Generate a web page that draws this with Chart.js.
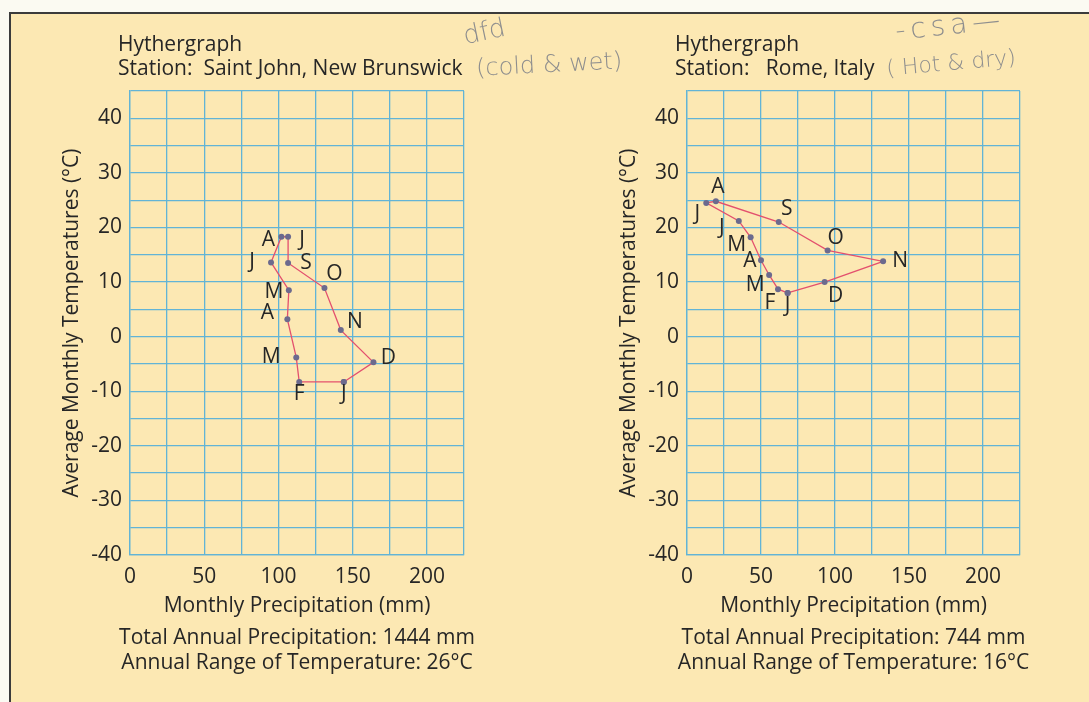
<!DOCTYPE html>
<html>
<head>
<meta charset="utf-8">
<title>Hythergraphs</title>
<script src="https://cdn.jsdelivr.net/npm/chart.js@4.4.1/dist/chart.umd.min.js"></script>
<style>
  html, body { margin: 0; padding: 0; background: #fbfaf2; overflow: hidden; }
  #sheet {
    position: absolute; left: 9px; top: 12px; width: 1080px; height: 690px;
    background: #fce8b3; border-left: 2px solid #3b3b3b; border-top: 2px solid #3b3b3b;
  }
  canvas { position: absolute; top: 0; }
  #c1 { left: 0; }
  #c2 { left: 545px; }
  .pencil {
    position: absolute; color: #8e8e8e; font-family: 'DejaVu Sans', sans-serif;
    font-weight: 300; white-space: nowrap;
  }
</style>
</head>
<body>
<div id="sheet"></div>
<canvas id="c1" width="544" height="702"></canvas>
<canvas id="c2" width="544" height="702"></canvas>

<div class="pencil" style="left:463px;top:16px;font-size:26px;transform:rotate(-12deg);">dfd</div>
<div class="pencil" style="left:476px;top:50px;font-size:24px;transform:rotate(-3deg);">(cold &amp; wet)</div>
<div class="pencil" style="left:895px;top:8px;font-size:28px;letter-spacing:5px;transform:rotate(-6deg);">-csa—</div>
<div class="pencil" style="left:886px;top:50px;font-size:22px;transform:rotate(-5deg);">( Hot &amp; dry)</div>

<script>
// --- DADOS: Saint John, New Brunswick ---
const labelsSJ = ['J', 'F', 'M', 'A', 'M', 'J', 'A', 'J', 'S', 'O', 'N', 'D'];
const precipSJ = [144, 114, 112, 106, 107, 95, 102, 106.5, 106.5, 131, 142, 164];
const tempSJ = [-8.3, -8.3, -3.8, 3.2, 8.5, 13.6, 18.3, 18.3, 13.5, 8.9, 1.2, -4.7];

// --- DADOS: Rome, Italy ---
const labelsRome = ['J', 'F', 'M', 'A', 'M', 'J', 'J', 'A', 'S', 'O', 'N', 'D'];
const precipRome = [68, 61.5, 55.5, 50, 43, 35, 13, 19.5, 62, 95, 132.5, 93];
const tempRome = [8.0, 8.7, 11.3, 14.0, 18.2, 21.2, 24.5, 24.8, 21.0, 15.8, 13.8, 10.0];

// posição das letras em relação a cada ponto (px)
const offsetsSJ = [[0, 12], [0, 12], [-25, 0], [-20, -6], [-15, 2], [-19, 0],
                   [-13, 3], [14, 3], [18, 0], [10, -14], [14, -8], [15, -4]];
const offsetsRome = [[0, 13], [-8, 14], [-14, 10], [-11, 1], [-14, 8], [-17, 7],
                     [-9, 11], [2, -14], [8, -13], [8, -12], [17, 0], [11, 14]];

const FONT = "'Open Sans', 'Noto Sans', sans-serif";
const INK = '#262626';
const GRID = '#62b4d6';

Chart.defaults.font.family = FONT;
Chart.defaults.font.size = 21;
Chart.defaults.color = INK;

// textos do cabeçalho, rodapé e letras dos meses
const hytherText = {
  id: 'hytherText',
  afterDatasetsDraw(chart, args, opts) {
    const { ctx, chartArea } = chart;
    ctx.save();
    ctx.fillStyle = INK;
    ctx.font = '21px ' + FONT;
    ctx.textBaseline = 'middle';
    ctx.textAlign = 'left';
    opts.header.forEach((t, i) => ctx.fillText(t, chartArea.left - 12, chartArea.top - 46 + i * 24));
    ctx.textAlign = 'center';
    const cx = (chartArea.left + chartArea.right) / 2;
    opts.footer.forEach((t, i) => ctx.fillText(t, cx, chartArea.bottom + 83 + i * 25));
    const meta = chart.getDatasetMeta(0);
    opts.labels.forEach((lab, i) => {
      const pt = meta.data[i];
      const [dx, dy] = opts.offsets[i];
      ctx.fillText(lab, pt.x + dx, pt.y + dy);
    });
    ctx.restore();
  }
};

function makeHythergraph(canvasId, precip, temp, labels, offsets, header, footer, padLeft, padRight) {
  const pts = precip.map((p, i) => ({ x: p, y: temp[i] }));
  pts.push(pts[0]); // fecha o contorno

  return new Chart(document.getElementById(canvasId), {
    type: 'scatter',
    data: {
      datasets: [{
        data: pts,
        showLine: true,
        borderColor: '#e3506e',
        borderWidth: 1.3,
        pointRadius: 3,
        pointBorderWidth: 0,
        pointBackgroundColor: '#6c6a8e',
        pointHoverRadius: 3
      }]
    },
    options: {
      responsive: false,
      animation: false,
      layout: { padding: { left: padLeft, right: padRight, top: 91, bottom: 82 } },
      plugins: {
        legend: { display: false },
        tooltip: { enabled: false },
        hytherText: { header, footer, labels, offsets }
      },
      scales: {
        x: {
          type: 'linear',
          min: 0, max: 225,
          grid: { color: GRID, lineWidth: 1.3, drawTicks: false },
          border: { color: GRID, width: 1.3 },
          ticks: {
            stepSize: 25, autoSkip: false, padding: 9, maxRotation: 0,
            callback: v => (v % 50 === 0 && v <= 200) ? String(v) : ''
          },
          title: { display: true, text: 'Monthly Precipitation (mm)', padding: { top: 0, bottom: 1 } },
          afterFit: s => { s.height = 65; }
        },
        y: {
          type: 'linear',
          min: -40, max: 45,
          grid: { color: GRID, lineWidth: 1.3, drawTicks: false },
          border: { color: GRID, width: 1.3 },
          ticks: {
            stepSize: 5, autoSkip: false, padding: 8,
            callback: v => (v % 10 === 0 && v <= 40) ? String(v) : ''
          },
          title: { display: true, text: 'Average Monthly Temperatures (°C)', padding: { top: 9, bottom: 0 } },
          afterFit: s => { s.width = 80; }
        }
      }
    },
    plugins: [hytherText]
  });
}

makeHythergraph('c1', precipSJ, tempSJ, labelsSJ, offsetsSJ,
  ['Hythergraph', 'Station:  Saint John, New Brunswick'],
  ['Total Annual Precipitation: 1444 mm', 'Annual Range of Temperature: 26°C'],
  50, 80);

makeHythergraph('c2', precipRome, tempRome, labelsRome, offsetsRome,
  ['Hythergraph', 'Station:   Rome, Italy'],
  ['Total Annual Precipitation: 744 mm', 'Annual Range of Temperature: 16°C'],
  62, 69);
</script>
</body>
</html>
